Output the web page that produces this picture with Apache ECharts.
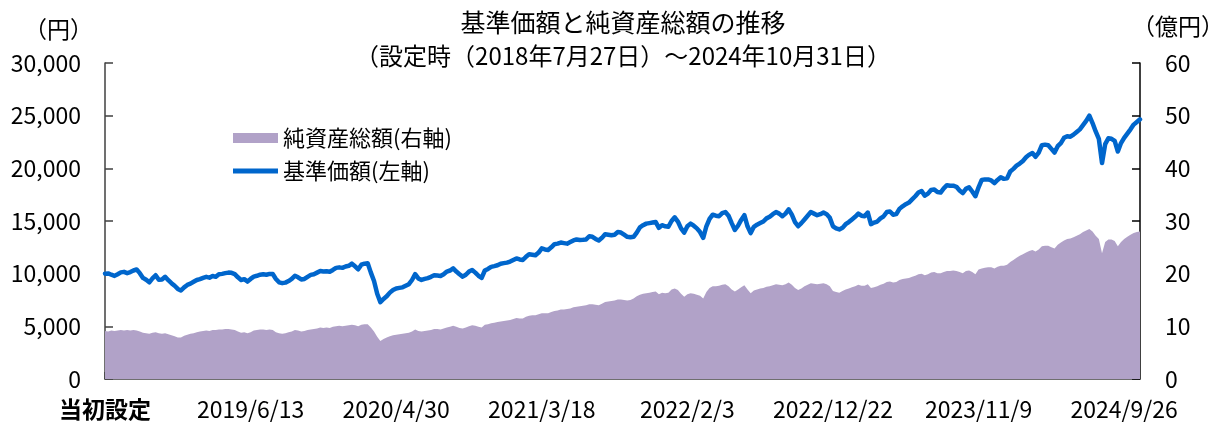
<!DOCTYPE html>
<html>
<head>
<meta charset="utf-8">
<script src="https://cdn.jsdelivr.net/npm/echarts@6/dist/echarts.min.js"></script>
<style>
  html, body { margin: 0; padding: 0; background: #fff; }
  #chart { width: 1216px; height: 426px; }
</style>
</head>
<body>
<div id="chart"></div>
<script>
// weekly values, first point = launch day 2018/7/27
const navValues = [
  10000, 10020, 9900, 9790, 9950, 10120, 10170, 10050, 10150, 10300,
  10400, 10050, 9600, 9420, 9180, 9550, 9850, 9420, 9450, 9700,
  9380, 9100, 8850, 8550, 8400, 8700, 8930, 9050, 9230, 9400,
  9480, 9600, 9700, 9620, 9780, 9700, 9950, 9980, 10050, 10100,
  10080, 9960, 9650, 9400, 9480, 9250, 9500,
  9720, 9800, 9900, 9950, 9900, 9980, 9960, 9500, 9180, 9100,
  9150, 9300, 9500, 9800, 9650, 9450, 9500, 9700, 9880, 9950,
  10100, 10250, 10200, 10230, 10180, 10350, 10550, 10600, 10550, 10680,
  10750, 10950, 10700, 10420, 10850, 10950, 10980, 10100, 9300, 8100,
  7300, 7600, 7850, 8200, 8450, 8600,
  8650, 8700, 8850, 9000, 9400, 9950, 9550, 9400, 9500, 9580,
  9700, 9850, 9820, 9780, 9950, 10200, 10300, 10500, 10200, 9950,
  9720, 9900, 10200, 10350, 10100, 9800, 9600, 10300, 10450, 10650,
  10720, 10800, 10950, 11000, 11050, 11150, 11300, 11450, 11350, 11300,
  11600, 11850, 11800, 11750, 12000, 12400,
  12300, 12250, 12500, 12800, 12850, 12950, 12900, 12850, 13000, 13150,
  13250, 13200, 13220, 13250, 13550, 13500, 13300, 13150, 13400, 13750,
  13700, 13650, 13700, 13950, 13900, 13700, 13500, 13450, 13500, 13900,
  14400, 14600, 14750, 14800, 14850, 14900, 14350, 14600, 14500, 14450,
  15000, 15350, 14950, 14300, 13900, 14500,
  14750, 14550, 14300, 13950, 13400, 14500, 15200, 15600, 15500, 15450,
  15750, 15850, 15500, 14800, 14150, 14550, 15100, 15550, 14500, 13850,
  14450, 14650, 14800, 14950, 15250, 15400, 15650, 15850, 15700, 15450,
  15700, 16100, 15600, 14900, 14500, 14800, 15150, 15500, 15850, 15700,
  15550, 15650, 15800, 15650, 15300, 14500,
  14300, 14200, 14350, 14700, 14900, 15150, 15400, 15700, 15500, 15450,
  15800, 14700, 14850, 14950, 15250, 15450, 15850, 15900, 15600, 15650,
  16150, 16400, 16600, 16750, 17050, 17350, 17700, 17850, 17400, 17600,
  17950, 18000, 17750, 17700, 18100, 18400, 18350, 18350, 18250, 17900,
  17650, 18050, 18200, 17800, 17350, 18200,
  18900, 18950, 18950, 18850, 18600, 18900, 19150, 19000, 19050, 19700,
  19950, 20250, 20450, 20700, 21050, 21300, 21450, 21100, 21500, 22200,
  22250, 22200, 21850, 21500, 22100, 22400, 22900, 23050, 23000, 23200,
  23450, 23700, 24100, 24500, 25000, 24300, 23500, 22800, 20500, 22300,
  22850, 22800, 22600, 21600, 22400, 22900, 23300, 23700, 24150, 24400, 24650
];

// 億円
const assetValues = [
  9.1, 9.0, 9.2, 9.1, 9.2, 9.3, 9.2, 9.3, 9.2, 9.3,
  9.2, 9.0, 8.8, 8.7, 8.6, 8.8, 8.9, 8.7, 8.6, 8.7,
  8.5, 8.3, 8.1, 7.9, 7.9, 8.2, 8.4, 8.6, 8.7, 8.9,
  9.0, 9.1, 9.2, 9.1, 9.3, 9.3, 9.4, 9.4, 9.5, 9.5,
  9.4, 9.3, 9.0, 8.8, 8.9, 8.7, 8.9,
  9.2, 9.3, 9.4, 9.4, 9.3, 9.4, 9.3, 8.9, 8.7, 8.6,
  8.7, 8.9, 9.0, 9.3, 9.2, 9.0, 9.1, 9.3, 9.4, 9.5,
  9.6, 9.8, 9.7, 9.8, 9.7, 9.9, 10.0, 10.1, 10.0, 10.1,
  10.2, 10.3, 10.2, 10.0, 10.3, 10.4, 10.4, 9.8, 9.0, 8.0,
  7.2, 7.6, 7.9, 8.1, 8.3, 8.4,
  8.5, 8.6, 8.7, 8.8, 9.0, 9.4, 9.1, 9.0, 9.1, 9.2,
  9.3, 9.5, 9.5, 9.4, 9.6, 9.8, 9.9, 10.1, 9.9, 9.7,
  9.6, 9.8, 10.0, 10.2, 10.1, 9.9, 9.8, 10.3, 10.4, 10.6,
  10.7, 10.8, 10.9, 11.0, 11.1, 11.2, 11.4, 11.6, 11.5, 11.5,
  11.8, 12.0, 12.1, 12.1, 12.3, 12.5,
  12.5, 12.5, 12.7, 12.9, 13.0, 13.2, 13.2, 13.3, 13.4, 13.6,
  13.7, 13.8, 13.9, 14.0, 14.2, 14.2, 14.1, 14.0, 14.3, 14.6,
  14.7, 14.8, 14.9, 15.1, 15.1, 15.0, 14.9, 15.0, 15.3, 15.7,
  16.0, 16.2, 16.3, 16.4, 16.5, 16.6, 16.1, 16.4, 16.3, 16.4,
  17.0, 17.2, 16.9, 16.2, 15.6, 16.1,
  16.3, 16.2, 16.0, 15.8, 15.3, 16.5, 17.3, 17.6, 17.6, 17.7,
  17.9, 18.0, 17.6, 17.0, 16.6, 17.0, 17.4, 17.8, 17.0, 16.3,
  16.8, 17.0, 17.2, 17.3, 17.5, 17.6, 17.8, 18.0, 17.9, 17.8,
  18.0, 18.3, 17.9, 17.3, 16.9, 17.2, 17.6, 17.9, 18.2, 18.1,
  18.0, 18.1, 18.2, 18.0, 17.6, 16.7,
  16.5, 16.4, 16.7, 17.0, 17.2, 17.4, 17.6, 17.9, 17.7, 17.7,
  18.0, 17.3, 17.4, 17.6, 17.9, 18.1, 18.4, 18.5, 18.3, 18.4,
  18.8, 19.0, 19.1, 19.2, 19.4, 19.6, 19.9, 20.0, 19.7, 19.9,
  20.2, 20.3, 20.1, 20.1, 20.3, 20.5, 20.5, 20.6, 20.5, 20.3,
  20.1, 20.5, 20.6, 20.3, 19.9, 20.8,
  21.0, 21.1, 21.2, 21.2, 21.0, 21.3, 21.5, 21.5, 21.7, 22.2,
  22.6, 23.0, 23.4, 23.7, 24.0, 24.3, 24.5, 24.2, 24.6, 25.2,
  25.3, 25.3, 25.0, 24.8, 25.5, 25.9, 26.3, 26.6, 26.7, 26.9,
  27.2, 27.5, 27.9, 28.2, 28.5, 28.0, 27.2, 26.6, 23.9, 26.0,
  26.5, 26.5, 26.2, 25.2, 26.0, 26.6, 27.0, 27.4, 27.7, 27.9, 28.0
];

const tickLabels = ['当初設定', '2019/6/13', '2020/4/30', '2021/3/18', '2022/2/3', '2022/12/22', '2023/11/9', '2024/9/26'];
const labelStep = 46;

// categories: launch day, then every Thursday
const categories = ['2018/7/27'];
for (let k = 1; k < navValues.length; k++) {
  const d = new Date(2018, 7, 2 + 7 * (k - 1));
  categories.push(d.getFullYear() + '/' + (d.getMonth() + 1) + '/' + d.getDate());
}

const FONT = "'Noto Sans CJK JP', 'Noto Sans', sans-serif";
const AXIS_COLOR = '#404040';

const chart = echarts.init(document.getElementById('chart'));

const option = {
  animation: false,
  textStyle: { fontFamily: FONT, color: '#000' },
  title: {
    text: '{a|基準価額と純資産総額の推移}\n{b|（設定時（2018年7月27日）～2024年10月31日）}',
    left: 618,
    top: 0,
    textAlign: 'center',
    textStyle: {
      fontFamily: FONT,
      fontWeight: 'normal',
      color: '#000',
      rich: {
        a: { fontFamily: FONT, fontSize: 25, lineHeight: 34, color: '#000' },
        b: { fontFamily: FONT, fontSize: 24, lineHeight: 34, color: '#000' },
      },
    },
  },
  graphic: [
    {
      type: 'text',
      left: 24,
      top: 18,
      style: { text: '（円）', font: "23px 'Noto Sans CJK JP'", fill: '#000' },
    },
    {
      type: 'text',
      left: 1132,
      top: 15,
      style: { text: '（億円）', font: "23px 'Noto Sans CJK JP'", fill: '#000' },
    },
  ],
  legend: {
    orient: 'vertical',
    left: 228,
    top: 121,
    itemWidth: 45,
    itemHeight: 10,
    itemGap: 9,
    textStyle: { fontFamily: FONT, fontSize: 22, color: '#000', lineHeight: 24 },
    data: [
      { name: '純資産総額(右軸)', icon: 'rect' },
      { name: '基準価額(左軸)', icon: 'path://M0,0 L90,0 L90,10 L0,10 Z' },
    ],
  },
  grid: { left: 105, right: 76, top: 63, bottom: 47 },
  xAxis: {
    type: 'category',
    data: categories,
    boundaryGap: false,
    axisLine: { lineStyle: { color: AXIS_COLOR, width: 1.5 } },
    axisTick: { inside: true, length: 7, interval: labelStep - 1, lineStyle: { color: AXIS_COLOR, width: 1.5 } },
    axisLabel: {
      interval: labelStep - 1,
      margin: 19,
      fontFamily: FONT,
      fontSize: 23,
      color: '#000',
      formatter: function (value, index) {
        if (index % labelStep !== 0) return '';
        const lbl = tickLabels[index / labelStep];
        return index === 0 ? '{b|' + lbl + '}' : lbl;
      },
      rich: { b: { fontFamily: FONT, fontSize: 23, fontWeight: 'bold', color: '#000' } },
    },
    splitLine: { show: false },
  },
  yAxis: [
    {
      type: 'value',
      min: 0,
      max: 30000,
      interval: 5000,
      axisLine: { show: true, lineStyle: { color: AXIS_COLOR, width: 1.5 } },
      axisTick: { show: true, inside: true, length: 8, lineStyle: { color: AXIS_COLOR, width: 1.5 } },
      axisLabel: {
        margin: 24,
        fontFamily: FONT,
        fontSize: 23,
        color: '#000',
        formatter: (v) => v.toLocaleString('en-US'),
      },
      splitLine: { show: false },
    },
    {
      type: 'value',
      min: 0,
      max: 60,
      interval: 10,
      axisLine: { show: true, lineStyle: { color: '#000', width: 1.5 } },
      axisTick: { show: true, inside: true, length: 8, lineStyle: { color: '#000', width: 1.5 } },
      axisLabel: { margin: 25, fontFamily: FONT, fontSize: 23, color: '#000' },
      splitLine: { show: false },
    },
  ],
  series: [
    {
      name: '純資産総額(右軸)',
      type: 'line',
      yAxisIndex: 1,
      data: assetValues,
      symbol: 'none',
      lineStyle: { width: 0, color: '#B1A2C8' },
      itemStyle: { color: '#B1A2C8' },
      areaStyle: { color: '#B1A2C8', opacity: 1 },
      z: 1,
    },
    {
      name: '基準価額(左軸)',
      type: 'line',
      yAxisIndex: 0,
      data: navValues,
      symbol: 'none',
      lineStyle: { width: 4.5, color: '#0066CC', cap: 'round', join: 'round' },
      itemStyle: { color: '#0066CC' },
      z: 3,
    },
  ],
};

chart.setOption(option);
</script>
</body>
</html>
